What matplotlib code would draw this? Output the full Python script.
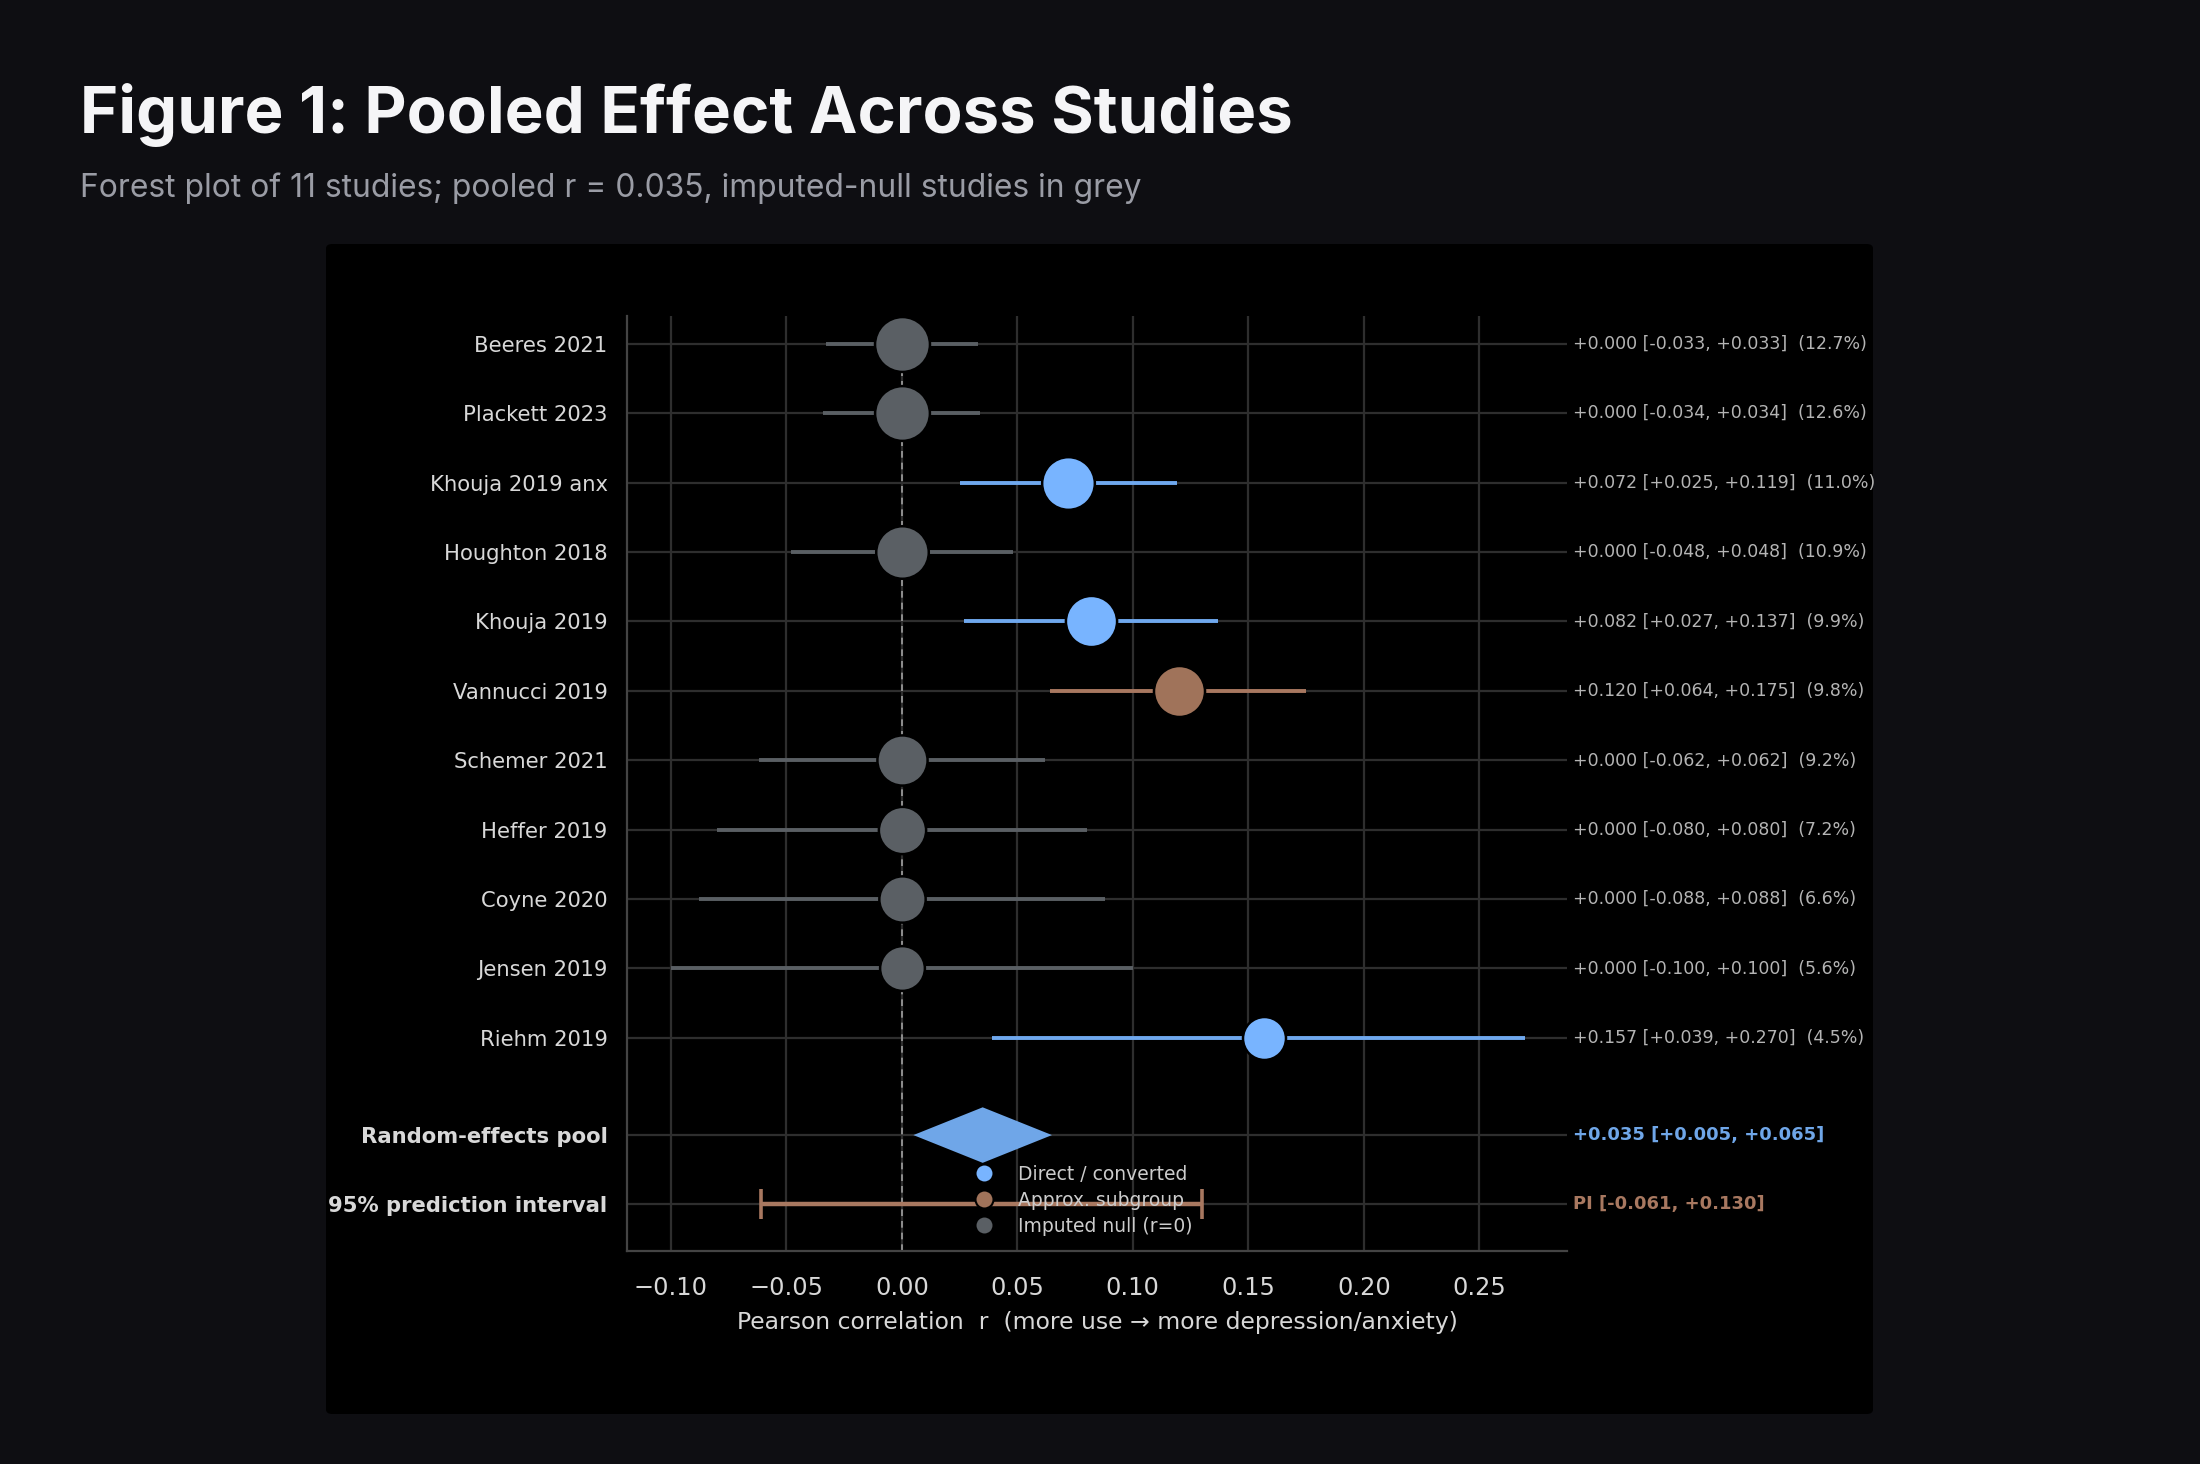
import matplotlib
matplotlib.use("Agg")
import matplotlib.pyplot as plt
from matplotlib.lines import Line2D
from matplotlib.patches import FancyBboxPatch, Polygon

# study data, top to bottom
studies = ["Beeres 2021", "Plackett 2023", "Khouja 2019 anx", "Houghton 2018",
           "Khouja 2019", "Vannucci 2019", "Schemer 2021", "Heffer 2019",
           "Coyne 2020", "Jensen 2019", "Riehm 2019"]
r_vals = [0.000, 0.000, 0.072, 0.000, 0.082, 0.120, 0.000, 0.000, 0.000, 0.000, 0.157]
ci_lo = [-0.033, -0.034, 0.025, -0.048, 0.027, 0.064, -0.062, -0.080, -0.088, -0.100, 0.039]
ci_hi = [0.033, 0.034, 0.119, 0.048, 0.137, 0.175, 0.062, 0.080, 0.088, 0.100, 0.270]
weights = [12.7, 12.6, 11.0, 10.9, 9.9, 9.8, 9.2, 7.2, 6.6, 5.6, 4.5]
kinds = ["null", "null", "direct", "null", "direct", "approx",
         "null", "null", "null", "null", "direct"]

pooled_r = 0.035
pooled_ci = (0.005, 0.065)
pred_int = (-0.061, 0.130)

xticks = [-0.10, -0.05, 0.00, 0.05, 0.10, 0.15, 0.20, 0.25]

marker_col = {"direct": "#78b4ff", "approx": "#a0735a", "null": "#5a5f64"}
line_col = {"direct": "#6fa8ee", "approx": "#a87860", "null": "#5a5f64"}
legend_names = {"direct": "Direct / converted", "approx": "Approx. subgroup",
                "null": "Imputed null (r=0)"}
POOL_COL = "#6fa6e8"
PI_COL = "#a87860"

fig = plt.figure(figsize=(22, 14.64), dpi=100)
fig.patch.set_facecolor("#0e0e12")

# black panel holding the chart
panel = FancyBboxPatch((326 / 2200, 1 - 1414 / 1464), (1873 - 326) / 2200, (1414 - 244) / 1464,
                       boxstyle="round,pad=0,rounding_size=0.003",
                       transform=fig.transFigure, facecolor="black", edgecolor="none", zorder=-1)
fig.patches.append(panel)

fig.text(80 / 2200, 1 - 133 / 1464, "Figure 1: Pooled Effect Across Studies",
         family="Inter", weight="bold", size=47, color="#f5f5f7")
fig.text(80 / 2200, 1 - 197 / 1464,
         "Forest plot of 11 studies; pooled r = 0.035, imputed-null studies in grey",
         family="Inter", size=22.9, color="#9a9ca5")

ax = fig.add_axes([627 / 2200, 1 - 1251 / 1464, (1567 - 627) / 2200, (1251 - 316) / 1464])
ax.set_facecolor("black")

n = len(studies)
ys = list(range(n))
pool_y = n + 0.4
pi_y = n + 1.4

ax.axvline(0, color="#a0a0a0", ls=(0, (4, 3)), lw=1.2, zorder=1.5)

for i in range(n):
    k = kinds[i]
    ax.plot([ci_lo[i], ci_hi[i]], [ys[i], ys[i]], color=line_col[k], lw=2.8,
            solid_capstyle="butt", zorder=2)
    ax.scatter(r_vals[i], ys[i], s=625 + 74 * weights[i], color=marker_col[k],
               edgecolor="black", linewidth=1.8, zorder=3)
    txt = f"{r_vals[i]:+.3f} [{ci_lo[i]:+.3f}, {ci_hi[i]:+.3f}]  ({weights[i]:.1f}%)"
    ax.text(1.006, ys[i], txt, transform=ax.get_yaxis_transform(), va="center",
            ha="left", fontsize=12.5, color="#b4b4b4", clip_on=False)

# pooled diamond
diamond = Polygon([(pooled_ci[0], pool_y), (pooled_r, pool_y - 0.4),
                   (pooled_ci[1], pool_y), (pooled_r, pool_y + 0.4)],
                  closed=True, facecolor=POOL_COL, edgecolor="none", zorder=3)
ax.add_patch(diamond)
ax.text(1.006, pool_y, f"{pooled_r:+.3f} [{pooled_ci[0]:+.3f}, {pooled_ci[1]:+.3f}]",
        transform=ax.get_yaxis_transform(), va="center", ha="left", fontsize=13,
        weight="bold", color=POOL_COL, clip_on=False)

# prediction interval
pi_mid = (pred_int[0] + pred_int[1]) / 2
ax.errorbar(pi_mid, pi_y, xerr=[[pi_mid - pred_int[0]], [pred_int[1] - pi_mid]],
            fmt="none", ecolor=PI_COL, elinewidth=3.2, capsize=10.5, capthick=2.6, zorder=2)
ax.text(1.006, pi_y, f"PI [{pred_int[0]:+.3f}, {pred_int[1]:+.3f}]",
        transform=ax.get_yaxis_transform(), va="center", ha="left", fontsize=13,
        weight="bold", color=PI_COL, clip_on=False)

ax.set_xlim(-0.119, 0.288)
ax.set_ylim(n + 2.07, -0.4)
ax.set_xticks(xticks)
ax.set_xticklabels([f"{t:.2f}".replace("-", "\u2212") for t in xticks])
ax.set_yticks(ys + [pool_y, pi_y])
ax.set_yticklabels(studies + ["Random-effects pool", "95% prediction interval"])
for lab in ax.get_yticklabels()[-2:]:
    lab.set_fontweight("bold")
    lab.set_color("#f0f0f0")

ax.tick_params(axis="y", length=0, pad=14, labelsize=15.2, labelcolor="#d8d8d8")
ax.tick_params(axis="x", length=0, pad=18, labelsize=17.3, labelcolor="#d8d8d8")
ax.grid(True, color="#2e2e2e", lw=1.6, zorder=0)
ax.set_axisbelow(True)
for side in ["top", "right"]:
    ax.spines[side].set_visible(False)
for side in ["left", "bottom"]:
    ax.spines[side].set_color("#444444")
    ax.spines[side].set_linewidth(1.6)

ax.set_xlabel("Pearson correlation  r  (more use \u2192 more depression/anxiety)",
              fontsize=16.9, color="#d8d8d8", labelpad=8)

handles = [Line2D([], [], marker="o", ls="none", markersize=13,
                  markerfacecolor=marker_col[k], markeredgecolor="black", markeredgewidth=1.5)
           for k in ["direct", "approx", "null"]]
leg = ax.legend(handles, [legend_names[k] for k in ["direct", "approx", "null"]],
                loc="lower center", bbox_to_anchor=(0.481, 0.003), frameon=False,
                fontsize=13.5, labelcolor="#cccccc",
                labelspacing=0.38, handletextpad=0.8, borderaxespad=0.25)
leg.set_zorder(5)

fig.savefig("out.png", dpi=100, facecolor=fig.get_facecolor())
